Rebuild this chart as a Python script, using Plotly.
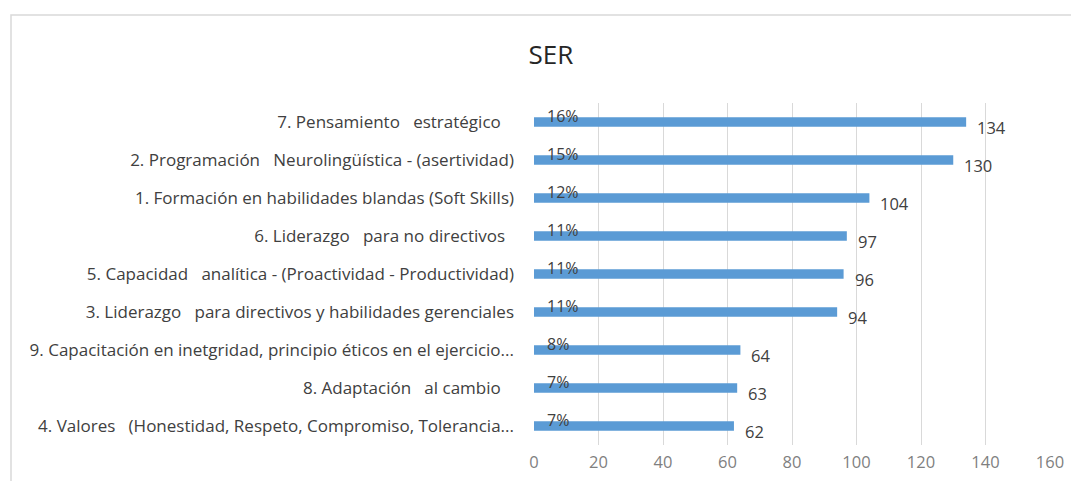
import plotly.graph_objects as go

categories = [
    "4. Valores\u00a0\u00a0\u00a0(Honestidad, Respeto, Compromiso, Tolerancia...",
    "8. Adaptación\u00a0\u00a0\u00a0al cambio\u00a0\u00a0\u00a0",
    "9. Capacitación en inetgridad, principio éticos en el ejercicio...",
    "3. Liderazgo\u00a0\u00a0\u00a0para directivos y habilidades gerenciales",
    "5. Capacidad\u00a0\u00a0\u00a0analítica - (Proactividad - Productividad)",
    "6. Liderazgo\u00a0\u00a0\u00a0para no directivos\u00a0\u00a0",
    "1. Formación en habilidades blandas (Soft Skills)",
    "2. Programación\u00a0\u00a0\u00a0Neurolingüística - (asertividad)",
    "7. Pensamiento\u00a0\u00a0\u00a0estratégico\u00a0\u00a0\u00a0",
]
values = [62, 63, 64, 94, 96, 97, 104, 130, 134]
percents = ["7%", "7%", "8%", "11%", "11%", "11%", "12%", "15%", "16%"]
x_ticks = [0, 20, 40, 60, 80, 100, 120, 140, 160]

FONT = "Open Sans"
W, H = 1079, 481
OFF = 8  # page body margin
ml, mr, mt, mb = 534 - OFF, W - (1050 - OFF), 103 - OFF, H - (445 - OFF)
pw, ph = W - ml - mr, H - mt - mb

fig = go.Figure()
fig.add_trace(go.Bar(
    x=values, y=categories, orientation="h",
    marker=dict(color="#5b9bd5", line=dict(width=0)),
    width=0.25, hoverinfo="x+y",
))

ann = []
for c, v, p in zip(categories, values, percents):
    ann.append(dict(x=v, y=c, xref="x", yref="y", text=str(v), showarrow=False,
                    xanchor="left", yanchor="middle", xshift=9, yshift=-5,
                    font=dict(family=FONT, size=16.5, color="#404040")))
    ann.append(dict(x=0, y=c, xref="x", yref="y", text=p, showarrow=False,
                    xanchor="left", yanchor="middle", xshift=11, yshift=6,
                    font=dict(family=FONT, size=16, color="#404040")))

fig.update_layout(
    width=W, height=H,
    margin=dict(l=ml, r=mr, t=mt, b=mb, pad=0),
    paper_bgcolor="white", plot_bgcolor="white",
    showlegend=False,
    title=dict(text="SER", x=(551 - OFF) / W, xanchor="center", y=1 - (55 - OFF) / H,
               yanchor="middle",
               font=dict(family=FONT, size=26, color="#262626")),
    xaxis=dict(range=[0, 160], tickvals=x_ticks, showgrid=True, gridcolor="#d9d9d9",
               gridwidth=1, zeroline=False, showline=False, ticks="",
               ticklabelstandoff=5,
               tickfont=dict(family=FONT, size=16.5, color="#7f7f7f")),
    yaxis=dict(showgrid=False, zeroline=False, showline=False, ticks="",
               ticklabelstandoff=19,
               tickfont=dict(family=FONT, size=17, color="#404040")),
    font=dict(family=FONT),
    annotations=ann,
    shapes=[dict(type="rect", xref="paper", yref="paper",
                 x0=(3 - ml) / pw, x1=(W + 20 - ml) / pw,
                 y0=(H - mb - (H + 20)) / ph, y1=(H - mb - 7) / ph,
                 line=dict(color="#d9d9d9", width=1.5), layer="below")],
)

fig.write_html("out.html")
